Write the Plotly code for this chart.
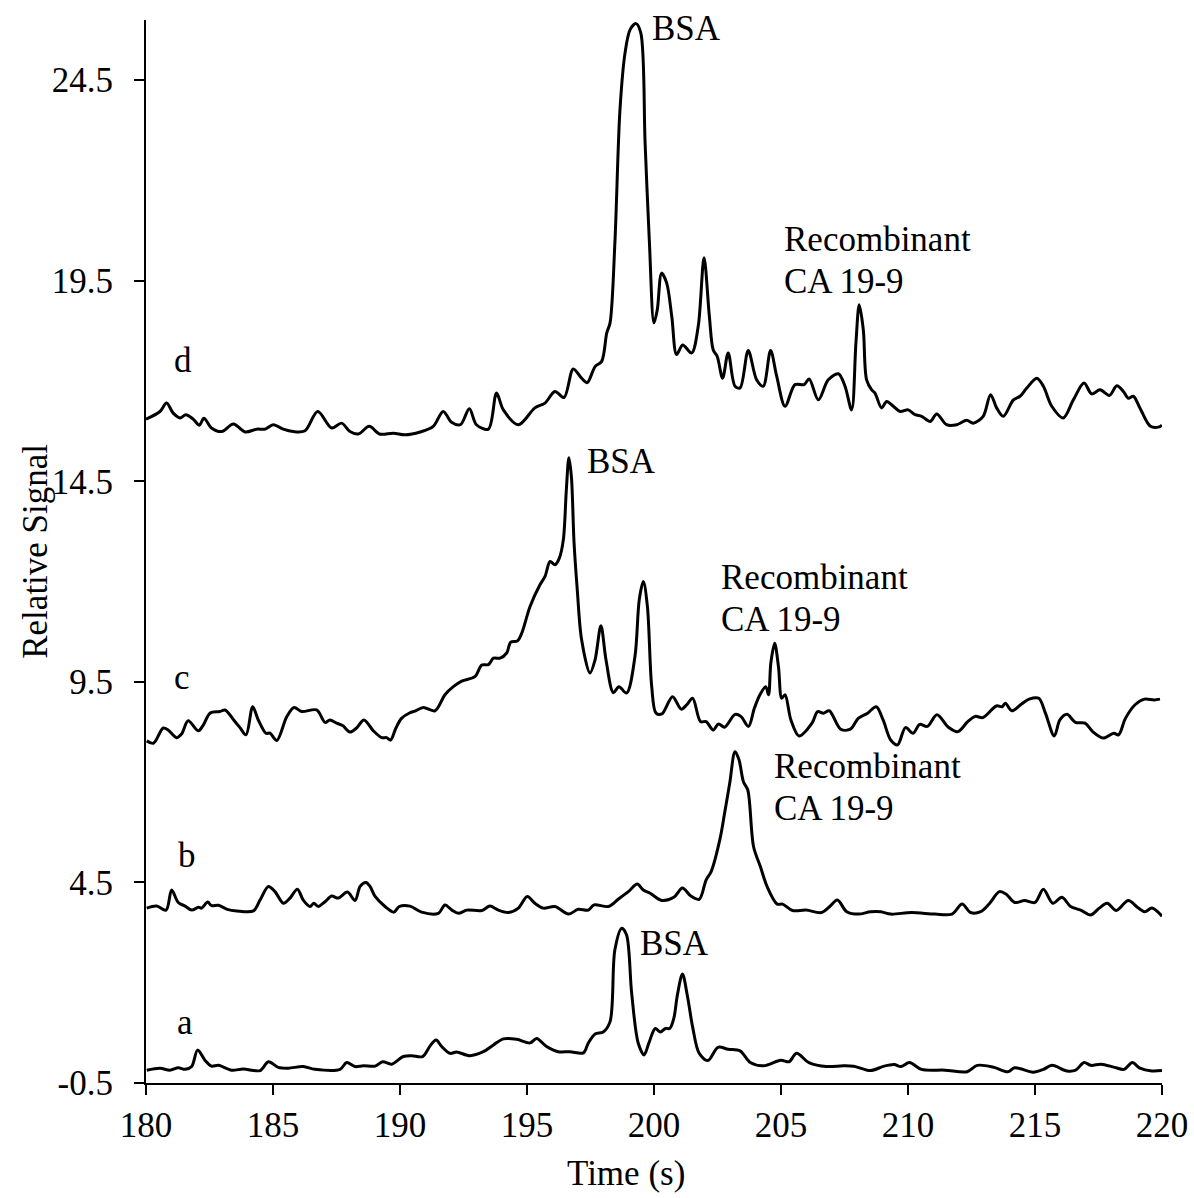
import plotly.graph_objects as go

# ---------------- data ----------------
time_d = [180.0, 180.55, 180.81, 181.07, 181.34, 181.57, 181.86, 182.1, 182.28, 182.58, 182.98, 183.44, 183.9,
          184.36, 184.69, 185.01, 185.4, 185.8, 186.26, 186.76, 187.31, 187.7, 188.03, 188.36, 188.79, 189.19,
          189.74, 190.2, 190.79, 191.31, 191.7, 192.03, 192.38, 192.73, 193.01, 193.48, 193.8, 194.07, 194.66,
          195.31, 195.71, 196.1, 196.46, 196.82, 197.15, 197.37, 197.68, 197.94, 198.14, 198.27, 198.46, 198.66,
          198.86, 199.06, 199.29, 199.48, 199.65, 199.82, 200.0, 200.13, 200.3, 200.5, 200.7, 200.89, 201.13,
          201.48, 201.74, 201.97, 202.18, 202.33, 202.49, 202.7, 202.92, 203.19, 203.39, 203.71, 204.04, 204.3,
          204.59, 204.83, 205.16, 205.55, 205.91, 206.11, 206.47, 206.86, 207.26, 207.52, 207.78, 207.95, 208.08,
          208.24, 208.37, 208.57, 208.7, 208.96, 209.16, 209.42, 209.69, 210.01, 210.28, 210.54, 210.87, 211.13,
          211.52, 211.92, 212.31, 212.57, 212.96, 213.25, 213.49, 213.75, 214.15, 214.41, 214.67, 215.07, 215.33,
          215.66, 216.11, 216.51, 216.93, 217.23, 217.56, 217.93, 218.22, 218.48, 218.67, 218.87, 219.13, 219.53,
          219.86, 220.0]
signal_d = [16.05, 16.24, 16.45, 16.2, 16.08, 16.16, 16.05, 15.9, 16.07, 15.83, 15.74, 15.93, 15.73,
            15.8, 15.8, 15.91, 15.8, 15.74, 15.76, 16.24, 15.83, 15.95, 15.74, 15.68, 15.87, 15.68,
            15.7, 15.66, 15.73, 15.87, 16.24, 15.97, 15.91, 16.31, 15.91, 15.8, 16.7, 16.28, 15.91,
            16.33, 16.45, 16.74, 16.59, 17.3, 17.07, 16.96, 17.36, 17.49, 18.2, 18.45, 20.44, 23.76,
            25.18, 25.76, 25.91, 25.68, 22.93, 20.44, 18.45, 18.78, 19.69, 19.44, 18.61, 17.66, 17.9,
            17.7, 18.36, 20.07, 18.61, 17.78, 17.61, 17.07, 17.7, 16.87, 16.83, 17.76, 17.03, 16.87,
            17.76, 17.12, 16.37, 16.91, 16.91, 17.05, 16.53, 17.03, 17.18, 16.87, 16.28, 17.95, 18.9,
            18.28, 17.03, 16.78, 16.7, 16.33, 16.49, 16.37, 16.24, 16.28, 16.16, 16.12, 15.99, 16.18,
            15.91, 15.91, 16.02, 15.95, 16.12, 16.66, 16.33, 16.12, 16.53, 16.62, 16.82, 17.07, 16.87,
            16.37, 16.08, 16.53, 16.95, 16.68, 16.78, 16.64, 16.88, 16.74, 16.57, 16.62, 16.33, 15.88,
            15.85, 15.9]

time_c = [180.03, 180.29, 180.68, 180.87, 181.2, 181.4, 181.66, 182.06, 182.26, 182.52, 182.91, 183.11, 183.5,
          183.7, 183.94, 184.2, 184.42, 184.72, 184.88, 185.15, 185.54, 185.83, 186.13, 186.72, 187.05, 187.24,
          187.51, 187.74, 188.03, 188.29, 188.58, 188.95, 189.28, 189.47, 189.63, 189.84, 190.06, 190.39, 190.59,
          190.92, 191.38, 191.77, 192.1, 192.43, 192.95, 193.22, 193.48, 193.68, 193.94, 194.2, 194.36, 194.62,
          194.79, 195.12, 195.51, 195.71, 195.91, 196.1, 196.27, 196.43, 196.55, 196.65, 196.75, 196.85, 196.98,
          197.15, 197.48, 197.68, 197.91, 198.11, 198.4, 198.62, 198.92, 199.25, 199.42, 199.58, 199.74, 199.91,
          200.08, 200.31, 200.73, 201.07, 201.29, 201.52, 201.83, 202.05, 202.33, 202.54, 202.78, 203.19, 203.42,
          203.72, 203.95, 204.17, 204.4, 204.51, 204.6, 204.75, 204.9, 205.03, 205.16, 205.39, 205.71, 206.22,
          206.44, 206.67, 206.9, 207.35, 207.73, 208.04, 208.41, 208.75, 209.02, 209.32, 209.59, 209.9, 210.2,
          210.46, 210.76, 211.14, 211.59, 211.97, 212.35, 212.65, 212.95, 213.48, 213.71, 213.83, 214.09, 214.47,
          214.77, 215.15, 215.41, 215.76, 215.98, 216.26, 216.59, 216.97, 217.27, 217.68, 218.1, 218.29, 218.56,
          218.94, 219.31, 219.69, 219.92]
signal_c = [8.03, 7.97, 8.35, 8.3, 8.11, 8.2, 8.53, 8.28, 8.43, 8.72, 8.76, 8.8, 8.51,
            8.36, 8.18, 8.88, 8.55, 8.22, 8.22, 8.04, 8.63, 8.86, 8.76, 8.8, 8.49, 8.55,
            8.47, 8.41, 8.25, 8.35, 8.55, 8.28, 8.11, 8.11, 8.05, 8.35, 8.59, 8.73, 8.77,
            8.86, 8.78, 9.18, 9.38, 9.52, 9.63, 9.92, 9.93, 10.09, 10.09, 10.22, 10.49, 10.52,
            10.71, 11.38, 11.92, 12.13, 12.5, 12.42, 12.58, 13.04, 14.3, 15.09, 14.6, 13.0, 11.79,
            10.55, 9.72, 10.05, 10.9, 10.05, 9.23, 9.38, 9.22, 10.13, 11.55, 12.0, 11.38, 9.38,
            8.72, 8.7, 9.13, 8.82, 8.93, 9.09, 8.51, 8.51, 8.3, 8.45, 8.37, 8.69, 8.64,
            8.39, 8.84, 9.18, 9.38, 9.18, 9.97, 10.46, 9.88, 9.09, 9.18, 8.55, 8.15, 8.47,
            8.76, 8.72, 8.78, 8.32, 8.32, 8.59, 8.72, 8.88, 8.55, 8.05, 7.93, 8.36, 8.22,
            8.44, 8.39, 8.68, 8.37, 8.26, 8.51, 8.64, 8.61, 8.9, 8.88, 8.97, 8.78, 8.95,
            9.07, 9.09, 8.72, 8.15, 8.55, 8.69, 8.49, 8.47, 8.26, 8.1, 8.22, 8.18, 8.59,
            8.93, 9.07, 9.05, 9.07]

time_b = [180.03, 180.42, 180.79, 181.01, 181.27, 181.54, 181.8, 182.06, 182.19, 182.43, 182.58, 182.85, 183.2,
          183.57, 184.23, 184.49, 184.82, 185.08, 185.41, 185.67, 185.96, 186.19, 186.46, 186.61, 186.78, 187.05,
          187.31, 187.57, 187.93, 188.23, 188.43, 188.66, 188.82, 189.02, 189.41, 189.76, 189.97, 190.39, 190.85,
          191.51, 191.77, 192.04, 192.3, 192.63, 193.22, 193.54, 193.87, 194.27, 194.66, 195.01, 195.31, 195.64,
          196.1, 196.63, 197.02, 197.41, 197.64, 198.2, 198.59, 198.99, 199.34, 199.58, 199.85, 200.31, 200.78,
          201.12, 201.45, 201.78, 202.05, 202.25, 202.59, 202.78, 202.98, 203.19, 203.35, 203.52, 203.69, 203.92,
          204.19, 204.45, 204.85, 205.06, 205.45, 205.99, 206.59, 206.92, 207.22, 207.59, 208.06, 208.52, 208.93,
          209.32, 210.13, 211.06, 211.73, 212.13, 212.46, 212.86, 213.2, 213.6, 213.86, 214.2, 214.59, 215.0,
          215.33, 215.7, 216.06, 216.4, 216.8, 217.2, 217.53, 217.84, 218.2, 218.67, 219.07, 219.33, 219.6, 220.0]
signal_b = [3.86, 3.91, 3.81, 4.31, 4.0, 3.91, 3.81, 3.88, 3.86, 4.01, 3.92, 3.93, 3.83,
            3.79, 3.79, 4.06, 4.4, 4.27, 3.98, 4.11, 4.33, 4.06, 3.9, 3.98, 3.9, 4.02,
            4.16, 4.11, 4.26, 4.05, 4.4, 4.5, 4.4, 4.15, 3.9, 3.76, 3.9, 3.91, 3.76,
            3.73, 3.94, 3.81, 3.73, 3.81, 3.8, 3.91, 3.81, 3.75, 3.86, 4.15, 3.98, 3.86,
            3.9, 3.71, 3.83, 3.81, 3.94, 3.9, 4.08, 4.27, 4.46, 4.31, 4.23, 4.05, 4.13,
            4.36, 4.16, 4.08, 4.56, 4.77, 5.56, 6.23, 6.97, 7.76, 7.55, 7.01, 6.81, 5.39,
            4.89, 4.4, 3.96, 3.96, 3.8, 3.81, 3.75, 3.9, 4.06, 3.77, 3.71, 3.77, 3.77,
            3.71, 3.75, 3.71, 3.71, 3.96, 3.75, 3.77, 3.97, 4.27, 4.21, 4.0, 4.05, 4.0,
            4.33, 3.98, 4.13, 3.9, 3.81, 3.69, 3.86, 3.98, 3.8, 4.05, 3.86, 3.77, 3.86, 3.66]

time_a = [180.03, 180.55, 180.94, 181.27, 181.54, 181.8, 182.03, 182.32, 182.58, 182.85, 183.37, 183.83, 184.49,
          184.82, 185.21, 185.6, 186.19, 186.65, 187.64, 187.9, 188.23, 188.56, 189.02, 189.32, 189.67, 190.13,
          190.46, 190.89, 191.18, 191.42, 191.64, 191.97, 192.23, 192.76, 193.28, 193.68, 194.07, 194.59, 195.12,
          195.38, 195.77, 196.23, 196.69, 197.22, 197.41, 197.68, 198.0, 198.27, 198.46, 198.73, 198.92, 199.12,
          199.38, 199.61, 199.8, 200.05, 200.25, 200.45, 200.62, 200.78, 200.92, 201.12, 201.32, 201.52, 201.78,
          202.12, 202.52, 202.92, 203.39, 203.79, 204.32, 204.99, 205.32, 205.61, 206.12, 206.79, 207.46, 207.86,
          208.52, 209.06, 209.46, 209.72, 210.06, 210.53, 211.46, 212.33, 212.73, 213.39, 213.93, 214.2, 214.93,
          215.33, 215.67, 216.26, 216.6, 216.93, 217.2, 217.6, 218.13, 218.51, 218.83, 219.13, 219.6, 220.0]
signal_a = [-0.18, -0.13, -0.18, -0.12, -0.16, -0.09, 0.32, 0.07, -0.08, -0.06, -0.18, -0.15, -0.19,
            0.03, -0.11, -0.13, -0.09, -0.16, -0.16, 0.01, -0.09, -0.07, -0.08, 0.03, -0.03, 0.16,
            0.18, 0.16, 0.42, 0.57, 0.41, 0.24, 0.27, 0.18, 0.28, 0.45, 0.6, 0.59, 0.5,
            0.61, 0.41, 0.28, 0.28, 0.25, 0.49, 0.72, 0.77, 1.03, 2.82, 3.36, 3.19, 1.74,
            0.49, 0.2, 0.5, 0.86, 0.77, 0.86, 0.86, 1.11, 1.69, 2.22, 1.65, 0.9, 0.24,
            0.06, 0.39, 0.34, 0.3, 0.01, -0.07, 0.07, 0.03, 0.24, 0.0, -0.09, -0.07, -0.08,
            -0.19, -0.08, -0.04, -0.09, 0.01, -0.16, -0.18, -0.22, -0.06, -0.11, -0.22, -0.12, -0.23,
            -0.16, -0.06, -0.2, -0.18, 0.01, -0.06, -0.03, -0.11, -0.16, 0.01, -0.13, -0.2, -0.19]

x_ticks = [180, 185, 190, 195, 200, 205, 210, 215, 220]
y_ticks = [-0.5, 4.5, 9.5, 14.5, 19.5, 24.5]

FONT = "Liberation Serif, Times New Roman, serif"

fig = go.Figure()
for t, s in [(time_a, signal_a), (time_b, signal_b), (time_c, signal_c), (time_d, signal_d)]:
    fig.add_trace(go.Scatter(
        x=t, y=s, mode="lines",
        line=dict(color="black", width=3, shape="spline", smoothing=0.9),
        showlegend=False, hoverinfo="skip"))

labels = [
    ("BSA", 199.84, 25.8, "left"),
    ("Recombinant", 205.04, 20.53, "left"),
    ("CA 19-9", 205.04, 19.48, "left"),
    ("d", 181.46, 17.5, "center"),
    ("BSA", 197.28, 14.99, "left"),
    ("Recombinant", 202.56, 12.1, "left"),
    ("CA 19-9", 202.56, 11.05, "left"),
    ("c", 181.42, 9.6, "center"),
    ("Recombinant", 204.65, 7.4, "left"),
    ("CA 19-9", 204.65, 6.35, "left"),
    ("b", 181.63, 5.16, "center"),
    ("BSA", 199.37, 2.97, "left"),
    ("a", 181.54, 1.02, "center"),
]
for txt, x, y, xa in labels:
    fig.add_annotation(x=x, y=y, xref="x", yref="y", text=txt, showarrow=False,
                       xanchor=xa, yanchor="middle",
                       font=dict(family=FONT, size=35, color="black"))

fig.add_annotation(x=-0.109, y=0.5, xref="paper", yref="paper", text="Relative Signal",
                   textangle=-90, showarrow=False, xanchor="center", yanchor="middle",
                   font=dict(family=FONT, size=35, color="black"))
fig.add_annotation(x=0.472, y=-0.085, xref="paper", yref="paper", text="Time (s)",
                   showarrow=False, xanchor="center", yanchor="middle",
                   font=dict(family=FONT, size=35, color="black"))

fig.update_layout(
    width=1194, height=1198,
    margin=dict(l=146, r=32, t=20, b=115),
    paper_bgcolor="white", plot_bgcolor="white",
    font=dict(family=FONT, size=35, color="black"),
)
fig.update_xaxes(range=[180, 220], tickvals=x_ticks, ticktext=[str(v) for v in x_ticks],
                 automargin=False,
                 showgrid=False, zeroline=False, showline=True, linecolor="black", linewidth=2,
                 ticks="outside", ticklen=10, tickwidth=2, tickcolor="black",
                 ticklabelstandoff=0, tickfont=dict(family=FONT, size=35, color="black"))
fig.update_yaxes(range=[-0.5, 26.0], tickvals=y_ticks, ticktext=[str(v) for v in y_ticks],
                 automargin=False,
                 showgrid=False, zeroline=False, showline=True, linecolor="black", linewidth=2,
                 ticks="outside", ticklen=10, tickwidth=2, tickcolor="black",
                 ticklabelstandoff=14, tickfont=dict(family=FONT, size=35, color="black"))

fig.write_html("out.html")
